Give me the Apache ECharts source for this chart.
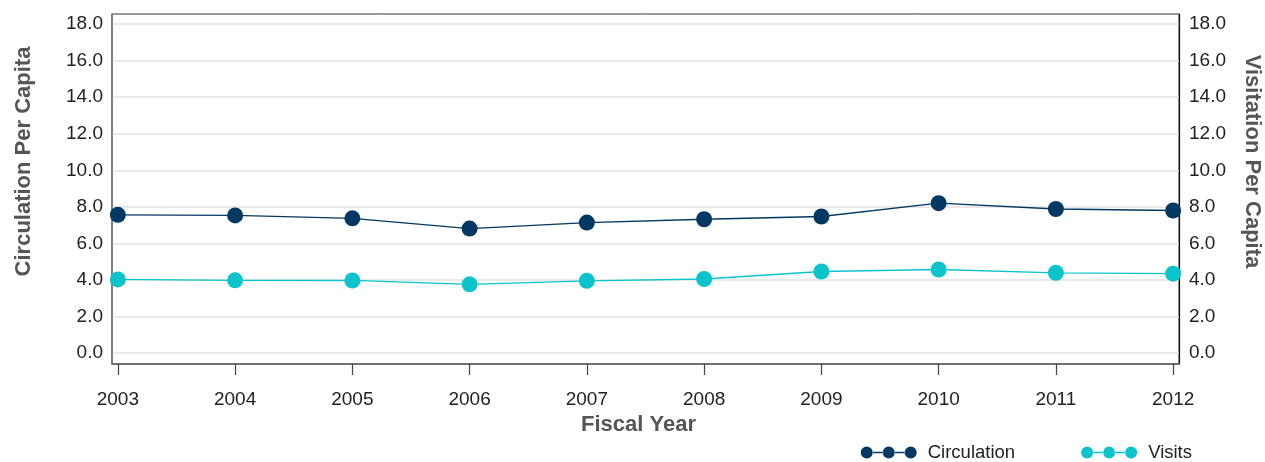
<!DOCTYPE html>
<html>
<head>
<meta charset="utf-8">
<script src="https://cdn.jsdelivr.net/npm/echarts@6/dist/echarts.min.js"></script>
<style>html,body{margin:0;padding:0;background:#fff;}#c{width:1265px;height:462px;}</style>
</head>
<body>
<div id="c"></div>
<script>
var years = [2003, 2004, 2005, 2006, 2007, 2008, 2009, 2010, 2011, 2012];
var circulation = [7.56, 7.53, 7.37, 6.81, 7.14, 7.32, 7.47, 8.20, 7.88, 7.80];
var visits = [4.03, 3.98, 3.97, 3.76, 3.95, 4.05, 4.46, 4.57, 4.39, 4.34];
var yTicks = [0, 2, 4, 6, 8, 10, 12, 14, 16, 18];

var FONT = '"Liberation Sans", Arial, sans-serif';
var NAVY = '#033862';
var TEAL = '#0bc4cb';

function pairs(vals) { return years.map(function (y, i) { return [y, vals[i]]; }); }

var legendIcon = 'path://M0,7a6,6 0 1,0 12,0a6,6 0 1,0 -12,0Z M22,7a6,6 0 1,0 12,0a6,6 0 1,0 -12,0Z M44,7a6,6 0 1,0 12,0a6,6 0 1,0 -12,0Z M11.5,6.3L22.5,6.3L22.5,7.7L11.5,7.7Z M33.5,6.3L44.5,6.3L44.5,7.7L33.5,7.7Z';

var chart = echarts.init(document.getElementById('c'), null, {renderer: 'canvas'});
var yAxisCommon = {
  type: 'value', min: -0.6, max: 18.55,
  axisTick: {show: false, customValues: yTicks},
  axisLabel: {customValues: yTicks, color: '#222', fontSize: 19, fontFamily: FONT,
    formatter: function (v) { return v.toFixed(1); }},
  nameLocation: 'middle',
  nameTextStyle: {color: '#555', fontSize: 22, fontWeight: 'bold', fontFamily: FONT}
};
chart.setOption({
  animation: false,
  grid: {left: 112, right: 86, top: 14, bottom: 98, show: true, borderColor: '#333', borderWidth: 1,
    containLabel: false, outerBoundsMode: 'none'},
  legend: {
    right: 68, top: 438, itemWidth: 56, itemHeight: 14, itemGap: 66,
    icon: legendIcon,
    textStyle: {fontSize: 18.5, color: '#222', fontFamily: FONT, padding: [0, 0, 0, 6]},
    data: ['Circulation', 'Visits']
  },
  xAxis: {
    type: 'value', min: 2002.95, max: 2012.05,
    name: 'Fiscal Year', nameLocation: 'middle', nameGap: 40,
    nameTextStyle: {color: '#555', fontSize: 22, fontWeight: 'bold', fontFamily: FONT, padding: [0, 14, 0, 0]},
    axisLine: {show: true, onZero: false, lineStyle: {color: '#666', width: 1.5}},
    axisTick: {show: true, customValues: years, length: 11, lineStyle: {color: '#444', width: 1.2}},
    axisLabel: {customValues: years, margin: 26, color: '#222', fontSize: 19, fontFamily: FONT,
      formatter: function (v) { return String(v); }},
    splitLine: {show: false}
  },
  yAxis: [
    Object.assign({}, yAxisCommon, {
      position: 'left', name: 'Circulation Per Capita', nameGap: 77, nameRotate: 90,
      nameTextStyle: Object.assign({}, yAxisCommon.nameTextStyle, {padding: [0, 0, 0, 55]}),
      axisLine: {show: true, lineStyle: {color: '#777', width: 1.5}},
      axisLabel: Object.assign({}, yAxisCommon.axisLabel, {margin: 9}),
      splitLine: {show: true, lineStyle: {color: '#e2e2e2', width: 1.5}}
    }),
    Object.assign({}, yAxisCommon, {
      position: 'right', name: 'Visitation Per Capita', nameGap: 62, nameRotate: -90,
      nameTextStyle: Object.assign({}, yAxisCommon.nameTextStyle, {padding: [0, 55, 0, 0]}),
      axisLine: {show: true, lineStyle: {color: '#111', width: 1.2}},
      axisLabel: Object.assign({}, yAxisCommon.axisLabel, {margin: 10}),
      splitLine: {show: false}
    })
  ],
  series: [
    {name: 'Circulation', type: 'line', yAxisIndex: 0, data: pairs(circulation),
      symbol: 'circle', symbolSize: 16, itemStyle: {color: NAVY},
      lineStyle: {color: NAVY, width: 1.3}},
    {name: 'Visits', type: 'line', yAxisIndex: 1, data: pairs(visits),
      symbol: 'circle', symbolSize: 16, itemStyle: {color: TEAL},
      lineStyle: {color: TEAL, width: 1.3}}
  ]
});
</script>
</body>
</html>
